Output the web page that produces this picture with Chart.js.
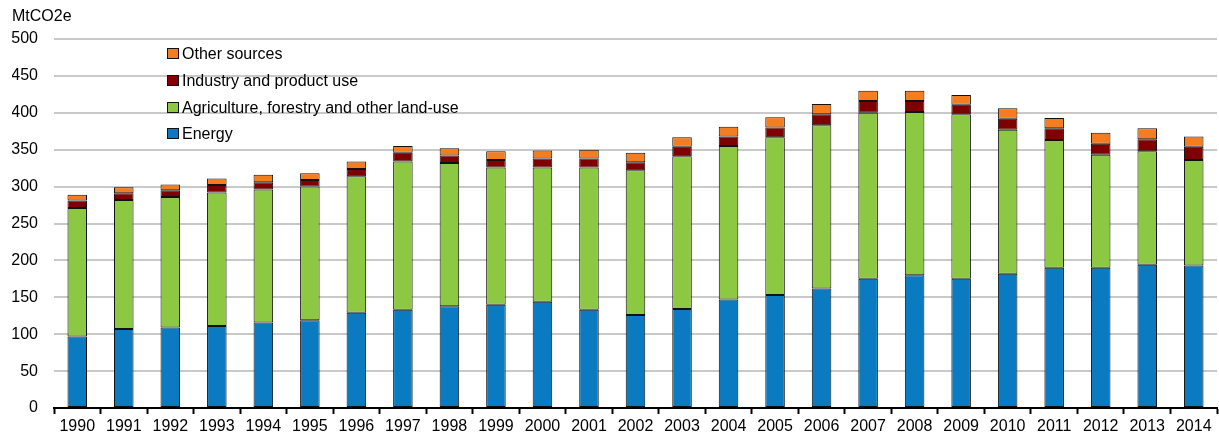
<!DOCTYPE html>
<html>
<head>
<meta charset="utf-8">
<script src="https://cdn.jsdelivr.net/npm/chart.js@4"></script>
<style>
  html, body { margin: 0; padding: 0; background: #fff; }
  #wrap { position: relative; width: 1219px; height: 435px; }
</style>
</head>
<body>
<div id="wrap"><canvas id="emissionsChart"></canvas></div>
<script>
// Greenhouse gas emissions by source, MtCO2e
var years = ['1990','1991','1992','1993','1994','1995','1996','1997','1998','1999','2000','2001','2002',
             '2003','2004','2005','2006','2007','2008','2009','2010','2011','2012','2013','2014'];
var energy      = [97, 107, 109, 111, 116, 119, 129, 133, 138, 140, 144, 133, 126, 134, 147, 153, 162, 175, 180, 175, 182, 190, 190, 194, 193];
var agriculture = [174, 175, 177, 181, 180, 181, 185, 201, 194, 186, 182, 193, 196, 207, 208, 214, 221, 225, 221, 223, 195, 173, 153, 154, 143];
var industry    = [10, 9, 9, 10, 10, 9, 10, 12, 10, 10, 12, 12, 11, 13, 13, 13, 15, 16, 15, 13, 15, 16, 15, 16, 18];
var other       = [8, 8, 8, 9, 10, 9, 10, 9, 10, 12, 11, 12, 13, 13, 13, 14, 14, 14, 14, 13, 14, 14, 15, 15, 14];
var yTicks = [0, 50, 100, 150, 200, 250, 300, 350, 400, 450, 500];

var FONT = '"Liberation Sans", Arial, sans-serif';
var EDGE = '#111';

function series(label, data, color) {
    return {
        label: label,
        data: data,
        backgroundColor: color,
        borderColor: EDGE,
        borderWidth: 1,
        borderSkipped: false,
        barPercentage: 0.42,
        categoryPercentage: 1.0
    };
}

// unit label above the y axis + legend stacked inside the plot, top series first
var annotations = {
    id: 'annotations',
    afterDraw: function (chart) {
        var ctx = chart.ctx;
        ctx.save();
        ctx.font = '16px ' + FONT;
        ctx.fillStyle = '#000';
        ctx.textBaseline = 'middle';
        ctx.textAlign = 'left';
        ctx.fillText('MtCO2e', 12, 17);

        var sets = chart.data.datasets.slice().reverse();
        var x = 167, y = 54, step = 26.8;
        sets.forEach(function (ds, i) {
            var cy = Math.round(y + i * step);
            ctx.fillStyle = ds.backgroundColor;
            ctx.fillRect(x, cy - 6, 12, 11);
            ctx.strokeStyle = EDGE;
            ctx.lineWidth = 1;
            ctx.strokeRect(x + 0.5, cy - 5.5, 11, 10);
            ctx.fillStyle = '#000';
            ctx.fillText(ds.label, x + 15, cy + 1);
        });
        ctx.restore();
    }
};

var emissionsChart = new Chart(document.getElementById('emissionsChart'), {
    type: 'bar',
    data: {
        labels: years,
        datasets: [
            series('Energy', energy, '#0a7bc0'),
            series('Agriculture, forestry and other land-use', agriculture, '#8cc841'),
            series('Industry and product use', industry, '#7f0000'),
            series('Other sources', other, '#f47d20')
        ]
    },
    options: {
        animation: false,
        responsive: true,
        maintainAspectRatio: false,
        layout: {
            padding: { top: 39, right: 2, left: 12, bottom: 0 }
        },
        plugins: {
            legend: { display: false },
            tooltip: { enabled: false }
        },
        scales: {
            x: {
                stacked: true,
                afterFit: function (axis) { axis.height = 27; },
                grid: {
                    display: true,
                    drawOnChartArea: false,
                    drawTicks: true,
                    tickLength: 6,
                    tickWidth: 2,
                    color: '#000',
                    offset: true
                },
                border: { display: true, color: '#000', width: 2 },
                ticks: {
                    color: '#000',
                    font: { family: FONT, size: 16, lineHeight: 1.0 },
                    maxRotation: 0,
                    autoSkip: false,
                    padding: 5
                }
            },
            y: {
                stacked: true,
                min: 0,
                max: 500,
                afterFit: function (axis) { axis.width = 42; },
                afterBuildTicks: function (axis) {
                    axis.ticks = yTicks.map(function (v) { return { value: v }; });
                },
                grid: {
                    color: '#c9c9c9',
                    lineWidth: 2,
                    drawTicks: false
                },
                border: { display: false },
                ticks: {
                    color: '#000',
                    font: { family: FONT, size: 16 },
                    padding: 16
                }
            }
        }
    },
    plugins: [annotations]
});
</script>
</body>
</html>
